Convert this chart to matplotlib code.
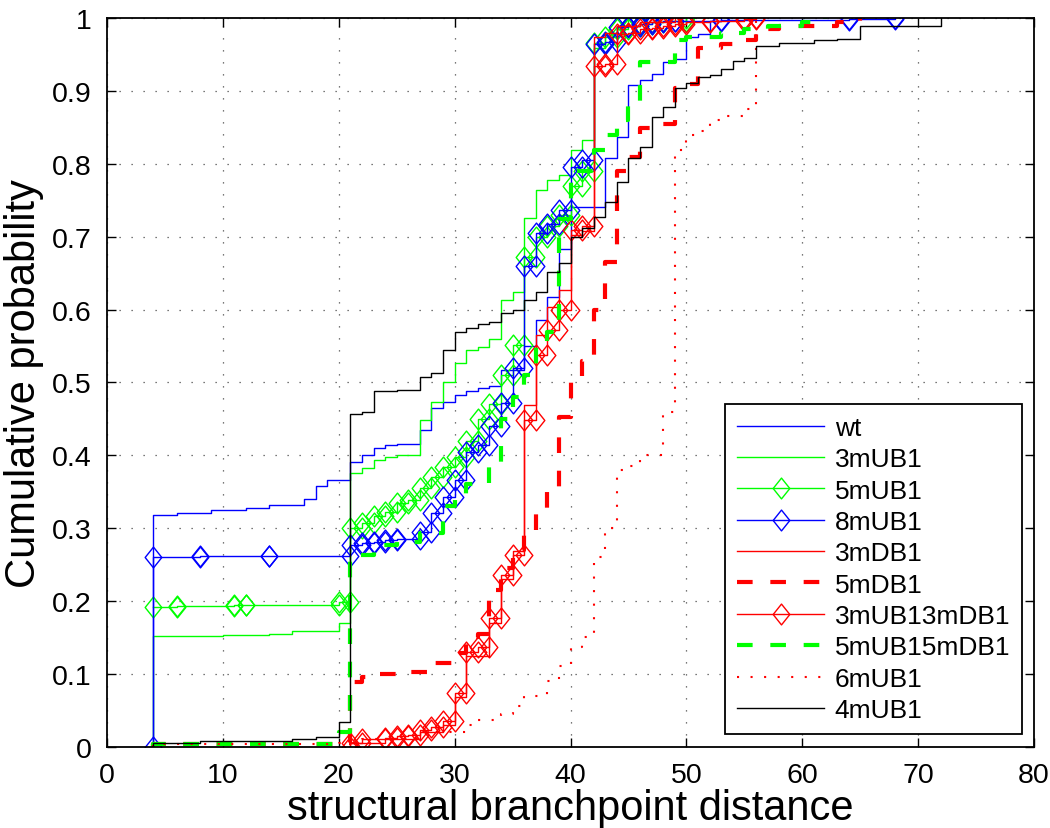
import matplotlib
matplotlib.use('Agg')
import matplotlib.pyplot as plt
from matplotlib.path import Path

plt.rcParams['font.family'] = ['Liberation Sans', 'DejaVu Sans']

# ---------------- data (step positions and cumulative levels) ----------------
wt_x = [4, 6, 9, 12, 14, 17, 18, 19, 21, 22, 23, 24, 25, 27, 28, 29, 30, 31, 32, 33, 34,
        36, 37, 38, 39, 40, 43, 44, 45, 46, 47, 48, 49, 50, 51, 52, 53]
wt_y = [0.318, 0.321, 0.325, 0.328, 0.332, 0.340, 0.358, 0.366, 0.391, 0.400, 0.410, 0.414,
        0.416, 0.435, 0.465, 0.473, 0.483, 0.488, 0.492, 0.495, 0.517, 0.550, 0.586, 0.617,
        0.684, 0.741, 0.808, 0.837, 0.908, 0.915, 0.924, 0.940, 0.945, 0.974, 0.978, 0.997, 1.0]

m3UB1_x = [4, 10, 14, 16, 20, 21, 22, 23, 24, 25, 27, 28, 29, 30, 31, 32, 33, 34, 35, 36,
           37, 38, 39, 40, 41, 42, 43, 44, 45]
m3UB1_y = [0.152, 0.153, 0.155, 0.158, 0.170, 0.376, 0.383, 0.394, 0.397, 0.400, 0.449, 0.473,
           0.500, 0.527, 0.545, 0.549, 0.560, 0.613, 0.624, 0.726, 0.764, 0.778, 0.785, 0.820,
           0.833, 0.960, 0.980, 0.990, 1.0]

m5UB1_x = [4, 6, 11, 12, 20, 21, 22, 23, 24, 25, 26, 27, 28, 29, 30, 31, 32, 33, 34, 35, 36,
           37, 38, 39, 40, 41, 42, 43, 44, 45, 46, 47, 48, 50]
m5UB1_y = [0.192, 0.193, 0.194, 0.195, 0.198, 0.300, 0.307, 0.316, 0.322, 0.334, 0.338, 0.355,
           0.370, 0.384, 0.398, 0.420, 0.450, 0.470, 0.510, 0.551, 0.672, 0.700, 0.715, 0.730,
           0.770, 0.790, 0.966, 0.975, 0.985, 0.990, 0.993, 0.995, 0.997, 1.0]

m8UB1_x = [4, 8, 14, 21, 22, 23, 24, 25, 27, 28, 29, 30, 31, 32, 33, 34, 35, 36, 37, 38, 39,
           40, 41, 42, 43, 44, 45, 46, 47, 48, 49, 53, 64, 68]
m8UB1_y = [0.260, 0.261, 0.262, 0.277, 0.280, 0.281, 0.283, 0.285, 0.295, 0.321, 0.343, 0.366,
           0.405, 0.414, 0.440, 0.472, 0.520, 0.660, 0.705, 0.718, 0.737, 0.796, 0.805, 0.965,
           0.968, 0.988, 0.990, 0.993, 0.995, 0.996, 0.997, 0.998, 0.999, 1.0]

m3DB1_x = [21, 24, 27, 29, 30, 31, 33, 34, 35, 36, 37, 38, 39, 40, 41, 42, 43, 44, 46, 49]
m3DB1_y = [0.005, 0.010, 0.020, 0.030, 0.068, 0.125, 0.170, 0.230, 0.268, 0.469, 0.565, 0.604,
           0.627, 0.702, 0.708, 0.975, 0.980, 0.990, 0.995, 1.0]

m5DB1_x = [4, 20, 21, 22, 23, 26, 28, 30, 31, 32, 33, 34, 35, 36, 37, 38, 39, 40, 41, 42, 43,
           44, 45, 46, 47, 49, 50, 51, 53, 55, 56, 58, 63, 65]
m5DB1_y = [0.003, 0.005, 0.089, 0.095, 0.100, 0.103, 0.115, 0.129, 0.150, 0.155, 0.215, 0.245,
           0.270, 0.298, 0.320, 0.350, 0.453, 0.500, 0.530, 0.600, 0.665, 0.790, 0.810, 0.850,
           0.855, 0.905, 0.910, 0.960, 0.965, 0.970, 0.985, 0.990, 0.995, 1.0]

m3UB13mDB1_x = [21, 22, 24, 25, 26, 27, 28, 29, 30, 31, 32, 33, 34, 35, 36, 37, 38, 39, 40, 41,
                42, 43, 44, 45, 46, 47, 48, 49, 50, 52, 55, 56]
m3UB13mDB1_y = [0.005, 0.010, 0.012, 0.014, 0.016, 0.023, 0.027, 0.035, 0.074, 0.130, 0.136,
                0.177, 0.236, 0.263, 0.449, 0.538, 0.572, 0.600, 0.710, 0.715, 0.935, 0.938,
                0.979, 0.980, 0.985, 0.987, 0.990, 0.992, 0.995, 0.997, 0.999, 1.0]

m5UB15mDB1_x = [4, 20, 21, 23, 25, 27, 29, 30, 31, 33, 34, 35, 36, 37, 38, 39, 40, 42, 43, 44,
                45, 46, 49, 50, 53, 55, 57, 60, 62]
m5UB15mDB1_y = [0.003, 0.020, 0.263, 0.277, 0.281, 0.293, 0.330, 0.340, 0.360, 0.390, 0.450,
                0.480, 0.510, 0.550, 0.570, 0.725, 0.790, 0.820, 0.840, 0.860, 0.885, 0.940,
                0.970, 0.975, 0.980, 0.985, 0.990, 0.995, 1.0]

m6UB1_x = [4, 20, 22, 27, 31, 32, 34, 35, 36, 38, 39, 40, 41, 42, 43, 44, 45, 46, 48, 49, 50,
           51, 52, 53, 55, 56]
m6UB1_y = [0.003, 0.005, 0.010, 0.020, 0.030, 0.037, 0.045, 0.055, 0.069, 0.090, 0.110, 0.136,
           0.150, 0.260, 0.300, 0.380, 0.385, 0.400, 0.460, 0.820, 0.840, 0.845, 0.860, 0.866,
           0.875, 1.0]

m4UB1_x = [4, 8, 12, 16, 18, 20, 21, 22, 23, 25, 27, 28, 29, 30, 31, 32, 33, 34, 35, 36, 37,
           38, 39, 40, 41, 42, 43, 44, 45, 46, 47, 48, 49, 50, 51, 52, 53, 54, 55, 56, 58, 59,
           61, 63, 65, 72]
m4UB1_y = [0.005, 0.007, 0.008, 0.010, 0.013, 0.033, 0.457, 0.460, 0.488, 0.490, 0.508, 0.513,
           0.545, 0.569, 0.575, 0.580, 0.583, 0.595, 0.600, 0.613, 0.624, 0.652, 0.664, 0.700,
           0.712, 0.727, 0.748, 0.775, 0.808, 0.823, 0.864, 0.878, 0.904, 0.911, 0.919, 0.923,
           0.930, 0.942, 0.946, 0.962, 0.966, 0.967, 0.970, 0.972, 0.990, 1.0]

x_ticks = [0, 10, 20, 30, 40, 50, 60, 70, 80]
y_ticks = [0, 0.1, 0.2, 0.3, 0.4, 0.5, 0.6, 0.7, 0.8, 0.9, 1.0]
y_tick_labels = ['0', '0.1', '0.2', '0.3', '0.4', '0.5', '0.6', '0.7', '0.8', '0.9', '1']


def stair_vertices(xs, ys, start_zero=True):
    X, Y = [], []
    prev = 0.0
    for i, (x, y) in enumerate(zip(xs, ys)):
        if i == 0:
            if start_zero:
                X.append(x); Y.append(0.0)
        else:
            X.append(x); Y.append(prev)
        X.append(x); Y.append(y)
        prev = y
    return X, Y


diamond = Path([(0, 1), (0.8, 0), (0, -1), (-0.8, 0), (0, 1)],
               [Path.MOVETO, Path.LINETO, Path.LINETO, Path.LINETO, Path.CLOSEPOLY])

BLUE, GREEN, RED, BLACK = (0, 0, 1), (0, 1, 0), (1, 0, 0), (0, 0, 0)
thin = 1.0
dash_thick = dict(lw=3.0, dashes=(3.75, 4.25), dash_capstyle='butt')
mk = dict(marker=diamond, markersize=15, markerfacecolor='none', markeredgewidth=1.0)

fig = plt.figure(figsize=(10.5, 8.29), dpi=100)
ax = fig.add_axes([0.1019, 0.0983, 0.8829, 0.8782])

series = [
    ('wt', wt_x, wt_y, True, dict(color=BLUE, lw=thin)),
    ('3mUB1', m3UB1_x, m3UB1_y, True, dict(color=GREEN, lw=thin)),
    ('5mUB1', m5UB1_x, m5UB1_y, False, dict(color=GREEN, lw=thin, markeredgecolor=GREEN, **mk)),
    ('8mUB1', m8UB1_x, m8UB1_y, True, dict(color=BLUE, lw=thin, markeredgecolor=BLUE, **mk)),
    ('3mDB1', m3DB1_x, m3DB1_y, True, dict(color=RED, lw=thin)),
    ('5mDB1', m5DB1_x, m5DB1_y, True, dict(color=RED, **dash_thick)),
    ('3mUB13mDB1', m3UB13mDB1_x, m3UB13mDB1_y, True,
     dict(color=RED, lw=thin, markeredgecolor=RED, **mk)),
    ('5mUB15mDB1', m5UB15mDB1_x, m5UB15mDB1_y, True, dict(color=GREEN, **dash_thick)),
    ('6mUB1', m6UB1_x, m6UB1_y, True, dict(color=RED, lw=1.5, dashes=(1.0, 5.5))),
    ('4mUB1', m4UB1_x, m4UB1_y, True, dict(color=BLACK, lw=thin)),
]

for name, xs, ys, z0, style in series:
    X, Y = stair_vertices(xs, ys, z0)
    ax.plot(X, Y, label=name, **style)

ax.set_xlim(0, 80)
ax.set_ylim(0, 1)
ax.set_xticks(x_ticks)
ax.set_xticklabels([str(v) for v in x_ticks])
ax.set_yticks(y_ticks)
ax.set_yticklabels(y_tick_labels)

ax.grid(True, color='0.3', lw=0.9, linestyle=(0, (1.0, 8.6)))
ax.set_axisbelow(True)
ax.tick_params(direction='in', length=6.5, width=1.0, top=True, right=True,
               labelsize=20.5, pad=11)
for sp in ax.spines.values():
    sp.set_linewidth(1.3)

ax.set_xlabel('structural branchpoint distance', fontsize=30, labelpad=0)
ax.set_ylabel('Cumulative probability', fontsize=30, labelpad=6)

leg = ax.legend(loc='lower right', bbox_to_anchor=(0.987, 0.017), borderaxespad=0,
                fontsize=19, fancybox=False, framealpha=1, edgecolor='black',
                handlelength=3.3, handletextpad=0.4, labelspacing=0.28,
                borderpad=0.45, numpoints=1)
leg.get_frame().set_linewidth(1.3)

fig.savefig('out.png', dpi=100)
